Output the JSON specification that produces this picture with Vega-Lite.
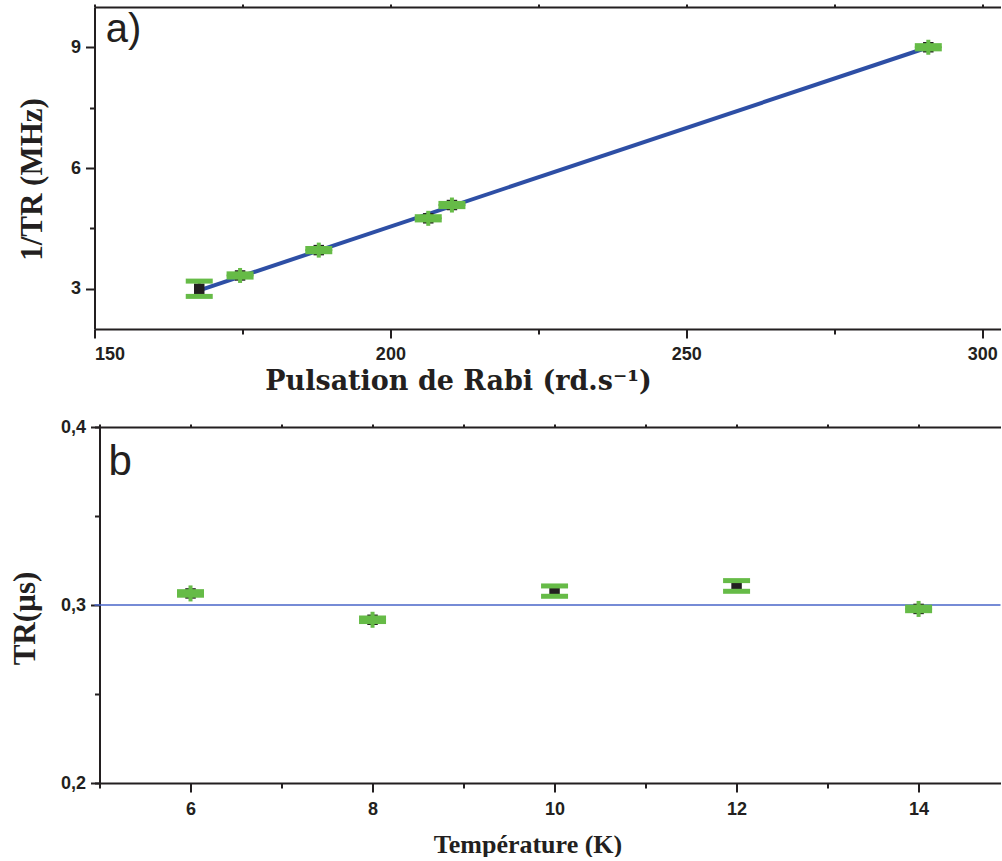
{
  "$schema": "https://vega.github.io/schema/vega-lite/v6.json",
  "padding": {"left": 8.5, "top": 3, "right": 0, "bottom": 0},
  "background": "white",
  "spacing": 24,
  "config": {
    "view": {"stroke": null},
    "axis": {
      "grid": false,
      "domainColor": "#231f20",
      "domainWidth": 2,
      "tickColor": "#231f20",
      "tickWidth": 2,
      "labelFont": "Liberation Sans",
      "labelFontWeight": "bold",
      "labelFontSize": 18,
      "labelColor": "#231f20",
      "titleFont": "Liberation Serif",
      "titleFontWeight": "bold",
      "titleFontSize": 24,
      "titleColor": "#231f20"
    }
  },
  "datasets": {
    "rabi": [
      {"omega": 167.7, "inv_tr": 3.0, "lo": 2.81, "hi": 3.19, "err": 0.19},
      {"omega": 174.6, "inv_tr": 3.33, "lo": 3.29, "hi": 3.37, "err": 0.04},
      {"omega": 187.9, "inv_tr": 3.96, "lo": 3.92, "hi": 4.0, "err": 0.04},
      {"omega": 206.4, "inv_tr": 4.75, "lo": 4.71, "hi": 4.79, "err": 0.04},
      {"omega": 210.4, "inv_tr": 5.08, "lo": 5.04, "hi": 5.12, "err": 0.04},
      {"omega": 290.9, "inv_tr": 9.0, "lo": 8.96, "hi": 9.04, "err": 0.04}
    ],
    "fit": [
      {"omega": 167.7, "inv_tr": 2.96},
      {"omega": 290.9, "inv_tr": 9.0}
    ],
    "temp": [
      {"T": 6, "tr": 0.3065, "lo": 0.3055, "hi": 0.3075, "err": 0.001},
      {"T": 8, "tr": 0.2917, "lo": 0.2907, "hi": 0.2927, "err": 0.001},
      {"T": 10, "tr": 0.3078, "lo": 0.3049, "hi": 0.3107, "err": 0.0029},
      {"T": 12, "tr": 0.3107, "lo": 0.3077, "hi": 0.3137, "err": 0.003},
      {"T": 14, "tr": 0.2978, "lo": 0.2968, "hi": 0.2988, "err": 0.001}
    ],
    "reference": [{"tr_ref": 0.3}],
    "labelA": [{"panel": "a)"}],
    "labelB": [{"panel": "b"}]
  },
  "vconcat": [
    {
      "width": 906,
      "height": 322,
      "resolve": {"axis": {"x": "independent"}},
      "layer": [
        {
          "data": {"name": "fit"},
          "mark": {"type": "line", "color": "#2e4fa5", "strokeWidth": 4},
          "encoding": {
            "x": {
              "field": "omega", "type": "quantitative",
              "scale": {"domain": [150, 303.1], "nice": false, "zero": false},
              "axis": {
                "orient": "bottom",
                "title": "Pulsation de Rabi (rd.s⁻¹)",
                "titleFont": "DejaVu Serif",
                "titleFontSize": 27,
                "titleX": 363.5,
                "titleY": 60,
                "titleAlign": "center",
                "titleBaseline": "alphabetic",
                "values": [150, 175, 200, 225, 250, 275, 300],
                "labelExpr": "datum.value % 50 == 0 ? datum.value : ''",
                "tickSize": {"condition": {"test": "datum.value % 50 == 0", "value": 9}, "value": 5},
                "labelPadding": 7
              }
            },
            "y": {
              "field": "inv_tr", "type": "quantitative",
              "scale": {"domain": [2, 10], "nice": false, "zero": false},
              "axis": {
                "title": "1/TR (MHz)",
                "titleFontSize": 31,
                "titleX": -53.5,
                "titleY": 172,
                "titleAlign": "center",
                "titleBaseline": "alphabetic",
                "values": [3, 4.5, 6, 7.5, 9],
                "labelExpr": "datum.value % 3 == 0 ? datum.value : ''",
                "tickSize": {"condition": {"test": "datum.value % 3 == 0", "value": 9}, "value": 5},
                "labelPadding": 5
              }
            }
          }
        },
        {
          "data": {"name": "rabi"},
          "mark": {"type": "rule", "color": "#66bb47", "strokeWidth": 3},
          "encoding": {
            "x": {
              "field": "omega", "type": "quantitative",
              "axis": {
                "orient": "top",
                "title": null,
                "labels": false,
                "values": [150, 175, 200, 225, 250, 275, 300],
                "tickSize": 3
              }
            },
            "y": {"field": "lo", "type": "quantitative"},
            "y2": {"field": "hi"}
          }
        },
        {
          "data": {"name": "rabi"},
          "mark": {"type": "point", "shape": "square", "filled": true, "color": "#231f20", "size": 110, "opacity": 1},
          "encoding": {
            "x": {"field": "omega", "type": "quantitative", "axis": null},
            "y": {"field": "inv_tr", "type": "quantitative"}
          }
        },
        {
          "data": {"name": "rabi"},
          "transform": [{"filter": "datum.err < 0.1"}],
          "mark": {"type": "tick", "orient": "vertical", "color": "#66bb47", "size": 15, "thickness": 4, "opacity": 1},
          "encoding": {
            "x": {"field": "omega", "type": "quantitative", "axis": null},
            "y": {"field": "inv_tr", "type": "quantitative"}
          }
        },
        {
          "data": {"name": "rabi"},
          "mark": {"type": "tick", "orient": "horizontal", "color": "#66bb47", "size": 27, "thickness": 5, "opacity": 1},
          "encoding": {
            "x": {"field": "omega", "type": "quantitative", "axis": null},
            "y": {"field": "lo", "type": "quantitative"}
          }
        },
        {
          "data": {"name": "rabi"},
          "mark": {"type": "tick", "orient": "horizontal", "color": "#66bb47", "size": 27, "thickness": 5, "opacity": 1},
          "encoding": {
            "x": {"field": "omega", "type": "quantitative", "axis": null},
            "y": {"field": "hi", "type": "quantitative"}
          }
        },
        {
          "data": {"name": "labelA"},
          "mark": {"type": "text", "font": "Liberation Sans", "fontSize": 40, "align": "left", "baseline": "alphabetic", "color": "#231f20"},
          "encoding": {
            "text": {"field": "panel"},
            "x": {"datum": 151.9, "type": "quantitative", "axis": null},
            "y": {"datum": 9.13, "type": "quantitative"}
          }
        }
      ]
    },
    {
      "width": 906,
      "height": 356,
      "resolve": {"axis": {"x": "independent"}},
      "layer": [
        {
          "data": {"name": "reference"},
          "mark": {"type": "rule", "color": "#4865c8", "strokeWidth": 1.5},
          "encoding": {
            "y": {
              "field": "tr_ref", "type": "quantitative",
              "scale": {"domain": [0.2, 0.4], "nice": false, "zero": false},
              "axis": {
                "title": "TR(µs)",
                "titleFontSize": 31,
                "titleX": -65.5,
                "titleY": 191,
                "titleAlign": "center",
                "titleBaseline": "alphabetic",
                "offset": -5,
                "values": [0.2, 0.25, 0.3, 0.35, 0.4],
                "labelExpr": "abs(datum.value * 10 - round(datum.value * 10)) < 0.001 ? replace(format(datum.value, '.1f'), '.', ',') : ''",
                "tickSize": {"condition": {"test": "abs(datum.value * 10 - round(datum.value * 10)) < 0.001", "value": 9}, "value": 5},
                "labelPadding": 5
              }
            }
          }
        },
        {
          "data": {"name": "temp"},
          "mark": {"type": "rule", "color": "#66bb47", "strokeWidth": 3},
          "encoding": {
            "x": {
              "field": "T", "type": "quantitative",
              "scale": {"domain": [4.945, 14.9], "nice": false, "zero": false},
              "axis": {
                "orient": "bottom",
                "title": "Température (K)",
                "titleFontSize": 26,
                "titleX": 433,
                "titleY": 69,
                "titleAlign": "center",
                "titleBaseline": "alphabetic",
                "values": [5, 6, 7, 8, 9, 10, 11, 12, 13, 14],
                "labelExpr": "datum.value % 2 == 0 ? datum.value : ''",
                "tickSize": {"condition": {"test": "datum.value % 2 == 0", "value": 9}, "value": 5},
                "labelPadding": 8
              }
            },
            "y": {"field": "lo", "type": "quantitative"},
            "y2": {"field": "hi"}
          }
        },
        {
          "data": {"name": "temp"},
          "mark": {"type": "point", "shape": "square", "filled": true, "color": "#231f20", "size": 110, "opacity": 1},
          "encoding": {
            "x": {
              "field": "T", "type": "quantitative",
              "axis": {
                "orient": "top",
                "title": null,
                "labels": false,
                "values": [5, 6, 7, 8, 9, 10, 11, 12, 13, 14],
                "tickSize": 3
              }
            },
            "y": {"field": "tr", "type": "quantitative"}
          }
        },
        {
          "data": {"name": "temp"},
          "transform": [{"filter": "datum.err < 0.002"}],
          "mark": {"type": "tick", "orient": "vertical", "color": "#66bb47", "size": 16, "thickness": 4, "opacity": 1},
          "encoding": {
            "x": {"field": "T", "type": "quantitative", "axis": null},
            "y": {"field": "tr", "type": "quantitative"}
          }
        },
        {
          "data": {"name": "temp"},
          "mark": {"type": "tick", "orient": "horizontal", "color": "#66bb47", "size": 27, "thickness": 5, "opacity": 1},
          "encoding": {
            "x": {"field": "T", "type": "quantitative", "axis": null},
            "y": {"field": "lo", "type": "quantitative"}
          }
        },
        {
          "data": {"name": "temp"},
          "mark": {"type": "tick", "orient": "horizontal", "color": "#66bb47", "size": 27, "thickness": 5, "opacity": 1},
          "encoding": {
            "x": {"field": "T", "type": "quantitative", "axis": null},
            "y": {"field": "hi", "type": "quantitative"}
          }
        },
        {
          "data": {"name": "labelB"},
          "mark": {"type": "text", "font": "Liberation Sans", "fontSize": 42, "align": "left", "baseline": "alphabetic", "color": "#231f20"},
          "encoding": {
            "text": {"field": "panel"},
            "x": {"datum": 5.1, "type": "quantitative", "axis": null},
            "y": {"datum": 0.3729, "type": "quantitative"}
          }
        }
      ]
    }
  ]
}
